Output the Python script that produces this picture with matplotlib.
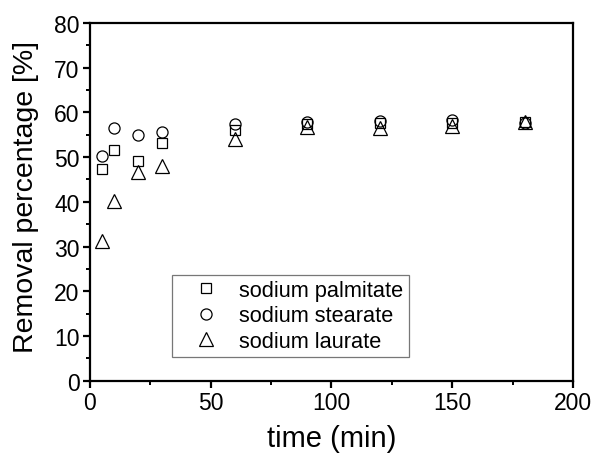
import matplotlib
matplotlib.use("Agg")
import matplotlib.pyplot as plt
from matplotlib.ticker import MultipleLocator

plt.rcParams['font.family'] = ['Liberation Sans', 'DejaVu Sans']

# time points (min)
time_min = [5, 10, 20, 30, 60, 90, 120, 150, 180]

# removal percentage (%) per surfactant
palmitate = [47.3, 51.6, 49.2, 53.2, 56.0, 57.4, 57.6, 57.6, 57.8]
stearate = [50.2, 56.5, 55.0, 55.6, 57.4, 57.8, 58.0, 58.2, 57.6]
laurate = [31.3, 40.2, 46.6, 48.1, 54.1, 56.8, 56.6, 57.0, 57.8]

series = [
    ("sodium palmitate", palmitate, "s", 7.0),
    ("sodium stearate", stearate, "o", 8.0),
    ("sodium laurate", laurate, "^", 10.0),
]

fig = plt.figure(figsize=(5.95, 4.6), dpi=100)
ax = fig.add_axes([0.151, 0.170, 0.812, 0.778])

for label, values, marker, size in series:
    ax.plot(time_min, values, linestyle="none", marker=marker, markersize=size,
            markerfacecolor="none", markeredgecolor="black",
            markeredgewidth=0.9, label=label)

ax.set_xlim(0, 200)
ax.set_ylim(0, 80)
ax.xaxis.set_major_locator(MultipleLocator(50))
ax.xaxis.set_minor_locator(MultipleLocator(25))
ax.yaxis.set_major_locator(MultipleLocator(10))
ax.yaxis.set_minor_locator(MultipleLocator(5))

for spine in ax.spines.values():
    spine.set_linewidth(1.6)

ax.tick_params(which="major", direction="out", length=5, width=1.6,
               labelsize=16.5, pad=2.5)
ax.tick_params(which="minor", direction="out", length=3, width=1.4)

ax.set_xlabel("time (min)", fontsize=21, labelpad=7)
ax.set_ylabel("Removal percentage [%]", fontsize=20.5, labelpad=11)
ax.yaxis.label.set_y(0.517)

leg = ax.legend(loc="lower left", bbox_to_anchor=(0.171, 0.066),
                fontsize=15.7, frameon=True, fancybox=False,
                handletextpad=0.2, borderpad=0.25, labelspacing=0.2,
                handlelength=2.6, borderaxespad=0)
leg.get_frame().set_edgecolor("#555555")
leg.get_frame().set_linewidth(0.9)

fig.savefig("out.png", dpi=100)
